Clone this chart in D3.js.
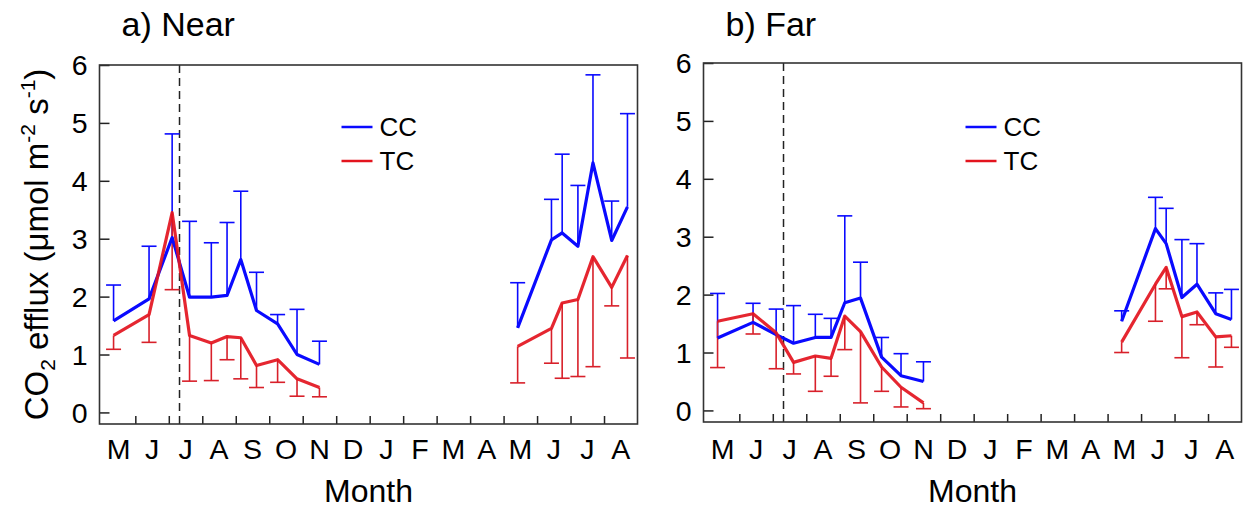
<!DOCTYPE html>
<html><head><meta charset="utf-8">
<script src="https://cdn.jsdelivr.net/npm/d3@7/dist/d3.min.js"></script>
<style>body{margin:0;background:#fff}svg{display:block}text{font-family:"Liberation Sans",Arial,sans-serif;fill:#000}</style>
</head><body><svg id="c" width="1244" height="510"></svg>
<script>
// ---- data ----
const monthLabels = ["M","J","J","A","S","O","N","D","J","F","M","A","M","J","J","A"];
const yTicks = [0,1,2,3,4,5,6];
const seriesNames = ["CC","TC"];
// sampling dates, in months since 1 May (year 1 and year 2)
const dates1 = [0.35,1.41,2.10,2.62,3.27,3.74,4.15,4.62,5.25,5.83,6.50];
const dates2 = [12.42,13.43,13.75,14.22,14.67,15.23,15.70];
const treatmentMonth = 2.32;

// a) Near
const nearCC1 = [1.58,1.96,3.02,1.99,1.99,2.02,2.64,1.76,1.53,1.00,0.83];
const nearCCse1 = [0.62,0.91,1.79,1.31,0.94,1.26,1.18,0.66,0.16,0.78,0.40];
const nearTC1 = [1.33,1.69,3.45,1.33,1.20,1.31,1.29,0.81,0.91,0.58,0.43];
const nearTCse1 = [0.24,0.48,1.33,0.79,0.65,0.40,0.71,0.38,0.39,0.30,0.16];
const nearCC2 = [1.46,2.98,3.10,2.87,4.31,2.97,3.55];
const nearCCse2 = [0.78,0.70,1.36,1.05,1.52,0.68,1.61];
const nearTC2 = [1.14,1.45,1.89,1.95,2.69,2.16,2.71];
const nearTCse2 = [0.63,0.60,1.30,1.33,1.90,0.32,1.77];

// b) Far
const farCC1 = [1.25,1.52,1.31,1.16,1.26,1.26,1.86,1.94,0.92,0.60,0.50];
const farCCse1 = [0.77,0.33,0.44,0.65,0.40,0.33,1.50,0.62,0.34,0.38,0.34];
const farTC1 = [1.54,1.67,1.34,0.83,0.94,0.90,1.63,1.36,0.75,0.40,0.13];
const farTCse1 = [0.80,0.35,0.62,0.20,0.61,0.31,0.58,1.23,0.42,0.34,0.10];
const farCC2 = [1.54,3.14,2.88,1.95,2.18,1.67,1.57];
const farCCse2 = [0.18,0.54,0.61,1.00,0.70,0.36,0.52];
const farTC2 = [1.18,2.18,2.47,1.62,1.70,1.27,1.29];
const farTCse2 = [0.18,0.64,0.37,0.71,0.22,0.52,0.20];

// ---- drawing ----
const svg = d3.select("#c");
const BLUE = "#0a0aff", RED = "#e3141e";
const zip = (d, v, s) => d.map((x, i) => ({x, y: v[i], se: s[i]}));

const panels = [
  {title:"a) Near", x0:99.5, x1:637.5, y0:65, y1:424, legendDx:242, yTitle:true,
   cc:[zip(dates1,nearCC1,nearCCse1), zip(dates2,nearCC2,nearCCse2)],
   tc:[zip(dates1,nearTC1,nearTCse1), zip(dates2,nearTC2,nearTCse2)]},
  {title:"b) Far", x0:703.5, x1:1241.5, y0:63, y1:422, legendDx:262, yTitle:false,
   cc:[zip(dates1,farCC1,farCCse1), zip(dates2,farCC2,farCCse2)],
   tc:[zip(dates1,farTC1,farTCse1), zip(dates2,farTC2,farTCse2)]}
];

panels.forEach(p => {
  const x = d3.scaleLinear().domain([-0.07, 16]).range([p.x0, p.x1]);
  const y = d3.scaleLinear().domain([-0.2, 6]).range([p.y1, p.y0]);
  const g = svg.append("g");

  // y axis (ticks inside)
  const ya = g.append("g").attr("transform", `translate(${p.x0},0)`)
    .call(d3.axisRight(y).tickValues(yTicks).tickSize(10).tickFormat(""));
  ya.select(".domain").remove();
  ya.selectAll("line").attr("stroke", "#222").attr("stroke-width", 1.5);
  g.selectAll(".ytl").data(yTicks).join("text")
    .attr("x", p.x0 - 12).attr("y", d => y(d)).attr("dy", "0.36em")
    .attr("text-anchor", "end").attr("font-size", 28.5).text(d => d);

  // x axis ticks inside at month boundaries
  const xa = g.append("g").attr("transform", `translate(0,${p.y1})`)
    .call(d3.axisTop(x).tickValues(d3.range(1, 16)).tickSize(8).tickFormat(""));
  xa.select(".domain").remove();
  xa.selectAll("line").attr("stroke", "#222").attr("stroke-width", 1.5);
  g.selectAll(".xtl").data(monthLabels).join("text")
    .attr("x", (d, i) => x(i + 0.5)).attr("y", 459)
    .attr("text-anchor", "middle").attr("font-size", 28.5).text(d => d);

  // treatment dashed line
  g.append("line").attr("x1", x(treatmentMonth)).attr("x2", x(treatmentMonth))
    .attr("y1", p.y0).attr("y2", p.y1)
    .attr("stroke", "#222").attr("stroke-width", 1.5).attr("stroke-dasharray", "8,5");

  // error bars
  const cap = 7.5;
  function bars(data, color, dir) {
    data.forEach(seg => seg.forEach(d => {
      const yEnd = y(d.y + dir * d.se);
      g.append("line").attr("x1", x(d.x)).attr("x2", x(d.x)).attr("y1", y(d.y)).attr("y2", yEnd)
        .attr("stroke", color).attr("stroke-width", 1.6);
      g.append("line").attr("x1", x(d.x) - cap).attr("x2", x(d.x) + cap).attr("y1", yEnd).attr("y2", yEnd)
        .attr("stroke", color).attr("stroke-width", 1.6);
    }));
  }
  bars(p.cc, BLUE, 1);
  bars(p.tc, "#d8202a", -1);

  const line = d3.line().x(d => x(d.x)).y(d => y(d.y));
  p.cc.forEach(seg => g.append("path").attr("d", line(seg)).attr("fill", "none")
    .attr("stroke", BLUE).attr("stroke-width", 3.2).attr("stroke-linejoin", "round"));
  p.tc.forEach(seg => g.append("path").attr("d", line(seg)).attr("fill", "none")
    .attr("stroke", RED).attr("stroke-width", 3.2).attr("stroke-linejoin", "round").attr("opacity", 0.92));

  // frame
  g.append("rect").attr("x", p.x0).attr("y", p.y0).attr("width", p.x1 - p.x0).attr("height", p.y1 - p.y0)
    .attr("fill", "none").attr("stroke", "#333").attr("stroke-width", 1.6);

  // legend
  const lx = p.x0 + p.legendDx;
  [[seriesNames[0], BLUE, 127], [seriesNames[1], RED, 161]].forEach(([name, col, ly]) => {
    g.append("line").attr("x1", lx).attr("x2", lx + 31).attr("y1", ly).attr("y2", ly)
      .attr("stroke", col).attr("stroke-width", 2.5);
    g.append("text").attr("x", lx + 38).attr("y", ly).attr("dy", "0.36em")
      .attr("font-size", 26).text(name);
  });

  // titles
  g.append("text").attr("x", p.x0 + 22).attr("y", 36).attr("font-size", 34).text(p.title);
  g.append("text").attr("x", (p.x0 + p.x1) / 2).attr("y", 502).attr("text-anchor", "middle")
    .attr("font-size", 32).text("Month");

  if (p.yTitle) {
    const t = g.append("text").attr("transform", `translate(48,${(p.y0 + p.y1) / 2}) rotate(-90)`)
      .attr("text-anchor", "middle").attr("font-size", 33);
    t.append("tspan").text("CO");
    t.append("tspan").attr("font-size", 21).attr("dy", 7).text("2");
    t.append("tspan").attr("dy", -7).text(" efflux (\u03BCmol m");
    t.append("tspan").attr("font-size", 21).attr("dy", -13).text("-2");
    t.append("tspan").attr("dy", 13).text(" s");
    t.append("tspan").attr("font-size", 21).attr("dy", -13).text("-1");
    t.append("tspan").attr("dy", 13).text(")");
  }
});
</script></body></html>
